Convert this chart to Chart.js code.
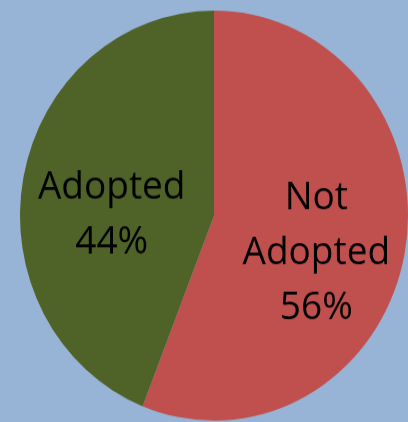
<!DOCTYPE html>
<html lang="en">
<head>
    <meta charset="UTF-8">
    <title>Adoption</title>
    <style>
        html, body { margin: 0; padding: 0; background: #97b3d6; overflow: hidden; }
        .cadre { width: 408px; height: 422px; }
        .zone { width: 408px; height: 400px; transform: scaleY(1.0567); transform-origin: 0 0; }
    </style>
</head>
<body>
    <div class="cadre">
        <div class="zone">
            <canvas id="pie-chart" width="408" height="400"></canvas>
        </div>
    </div>

    <script src="https://cdn.jsdelivr.net/npm/chart.js"></script>
    <script>
        const labels = ['Not Adopted', 'Adopted'];
        const values = [56, 44];
        const colors = ['#c0504d', '#4f6228'];

        // label text drawn inside each slice, one word per line then the percent
        const sliceText = {
            id: 'sliceText',
            afterDatasetsDraw(chart, args, opts) {
                const ctx = chart.ctx;
                const meta = chart.getDatasetMeta(0);
                const total = values.reduce((a, b) => a + b, 0);
                ctx.save();
                ctx.fillStyle = '#000';
                ctx.font = opts.size + 'px "Open Sans"';
                ctx.textAlign = 'center';
                ctx.textBaseline = 'alphabetic';
                meta.data.forEach((arc, i) => {
                    const p = arc.getCenterPoint();
                    const off = opts.offsets[i];
                    const lines = labels[i].split(' ');
                    lines.push(Math.round(values[i] / total * 100) + '%');
                    const startY = p.y + off.y - (lines.length - 1) * opts.lineHeight / 2;
                    lines.forEach((t, j) => {
                        ctx.fillText(t, p.x + off.x, startY + j * opts.lineHeight + opts.size * 0.35);
                    });
                });
                ctx.restore();
            }
        };

        new Chart(document.getElementById('pie-chart'), {
            type: 'pie',
            data: {
                labels: labels,
                datasets: [{
                    data: values,
                    backgroundColor: colors,
                    borderWidth: 0
                }]
            },
            options: {
                responsive: false,
                animation: false,
                layout: { padding: { left: 20, right: 0, top: 10, bottom: 2 } },
                plugins: {
                    legend: { display: false },
                    tooltip: { enabled: false },
                    sliceText: { size: 37, lineHeight: 52, offsets: [{ x: 7, y: 15 }, { x: -7, y: 15 }] }
                }
            },
            plugins: [sliceText]
        });
    </script>
</body>
</html>
